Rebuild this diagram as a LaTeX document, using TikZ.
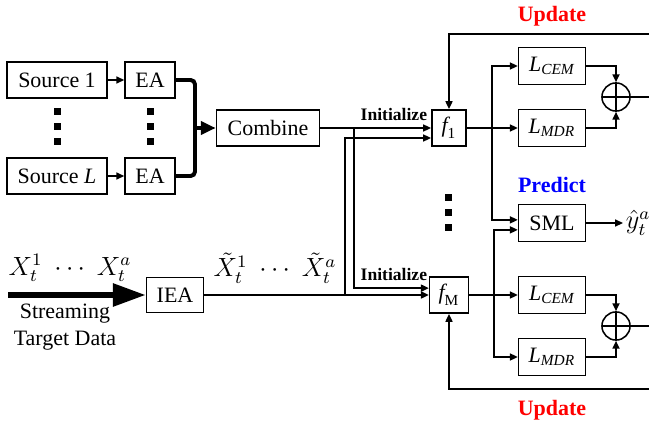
\documentclass[tikz,border=0pt]{standalone}
\usepackage[no-math]{fontspec}
\setmainfont{Liberation Serif}
\usepackage{amsmath}
\usetikzlibrary{arrows.meta, positioning, calc}
\definecolor{red1}{RGB}{255, 0, 0}
\definecolor{blue1}{RGB}{0, 0, 255}

\begin{document}
\begin{tikzpicture}[x=0.016cm, y=-0.016cm, line width=0.7pt,
  box/.style={draw, inner sep=0pt, minimum height=0.58cm},
  lbox/.style={box, minimum width=1.07cm, minimum height=0.59cm},
  arr/.style={-{Triangle[length=3.6pt, width=3.2pt]}},
  fat/.style={line width=1.8pt},
  sum/.style={draw, circle, inner sep=0pt, minimum size=0.45cm,
    path picture={\draw (path picture bounding box.north) -- (path picture bounding box.south)
      (path picture bounding box.west) -- (path picture bounding box.east);}},
  update/.style={font=\bfseries, text=red1},
  init/.style={font=\footnotesize\bfseries, anchor=east, inner sep=1pt}]
  \useasboundingbox (0,0) rectangle (649,423);
  \clip (0,0) rectangle (649,423);

  \node[box, minimum width=1.6cm] (src1) at (57,80) {Source 1};
  \node[box, minimum width=0.8cm] (ea1) at (150,80) {EA};
  \node[box, minimum width=1.6cm] (srcL) at (57,176) {Source \textit{L}};
  \node[box, minimum width=0.8cm] (eaL) at (150,176) {EA};
  \node[box, minimum width=1.65cm] (comb) at (268,128) {Combine};
  \node[box, minimum width=0.91cm, minimum height=0.56cm] (iea) at (175,295) {IEA};
  \node[box, minimum width=0.55cm] (f1) at (449,128) {$\textit{f}_{\text{1}}$};
  \node[box, minimum width=0.62cm] (fM) at (449,295) {$\textit{f}_{\text{M}}$};
  \node[lbox] (cem1) at (552,66) {$\textit{L}_{\textit{CEM}}$};
  \node[lbox] (mdr1) at (552,128) {$\textit{L}_{\textit{MDR}}$};
  \node[lbox] (sml) at (552,223) {SML};
  \node[lbox] (cem2) at (552,295) {$\textit{L}_{\textit{CEM}}$};
  \node[lbox] (mdr2) at (552,357) {$\textit{L}_{\textit{MDR}}$};
  \node[sum] (sum1) at (616,97) {};
  \node[sum] (sum2) at (616,326) {};
  \node[anchor=west, inner sep=1pt] (yhat) at (623,223) {\large $\hat{y}_t^a$};

  \node[update] (upd1) at (552,16) {Update};
  \node[update] (upd2) at (552,410) {Update};
  \node[font=\bfseries, text=blue1] (pred) at (552,185) {Predict};
  \node[init] (ini1) at (430,114) {Initialize};
  \node[init] (ini2) at (430,274) {Initialize};
  \node (xin) at (70,268) {\large $X_t^1\;\cdots\;X_t^a$};
  \node[align=center] (stxt) at (65,327) {Streaming\\Target Data};
  \node (xout) at (275,268) {\large $\tilde{X}_t^1\;\cdots\;\tilde{X}_t^a$};

  \coordinate (join) at (195,128);
  \coordinate (stream) at (8,295);
  \coordinate (br1) at (354,128);
  \coordinate (br2) at (345,295);
  \coordinate (sp1) at (492,128);
  \coordinate (sp2) at (494,295);
  \coordinate (out1) at (660,97);
  \coordinate (out2) at (660,326);
  \coordinate (updT) at (660,34);
  \coordinate (updB) at (660,389);

  \draw[arr] (src1) -- (ea1);
  \draw[arr] (srcL) -- (eaL);
  \draw[fat, rounded corners=2pt] (ea1.east) -| (join) |- (eaL.east);
  \draw[fat, -{Triangle[length=6.8pt, width=6pt]}] (join) -- (comb);
  \draw[line width=2.7pt, -{Triangle[length=15pt, width=10pt]}] (stream) -- (iea);

  \draw[arr] (comb) -- (f1);
  \draw[arr] (br1) |- ([yshift=0.11cm]fM.west);
  \draw[arr] (iea) -- (fM);
  \draw[arr] (br2) |- ([yshift=-0.16cm]f1.west);

  \draw[arr] (f1) -- (mdr1);
  \draw[arr] (sp1) |- (cem1);
  \draw[arr] (sp1) |- ([yshift=0.05cm]sml.west);
  \draw[arr] (fM) -- (cem2);
  \draw[arr] (sp2) |- (mdr2);
  \draw[arr] (sp2) |- ([yshift=-0.11cm]sml.west);
  \draw[arr] (sml) -- (yhat);

  \draw[arr] (cem1) -| (sum1);
  \draw[arr] (mdr1) -| (sum1);
  \draw[arr] (cem2) -| (sum2);
  \draw[arr] (mdr2) -| (sum2);
  \draw (sum1) -- (out1);
  \draw (sum2) -- (out2);
  \draw[arr] (updT) -| (f1);
  \draw[arr] (updB) -| (fM);

  \foreach \x in {57,150}
    \foreach \y in {111,126,141}
      \fill[shift={(\x,\y)}] (-3.5,-3.5) rectangle (3.5,3.5);
  \foreach \y in {197,212,227}
    \fill[shift={(448,\y)}] (-3.5,-3.5) rectangle (3.5,3.5);
\end{tikzpicture}
\end{document}
